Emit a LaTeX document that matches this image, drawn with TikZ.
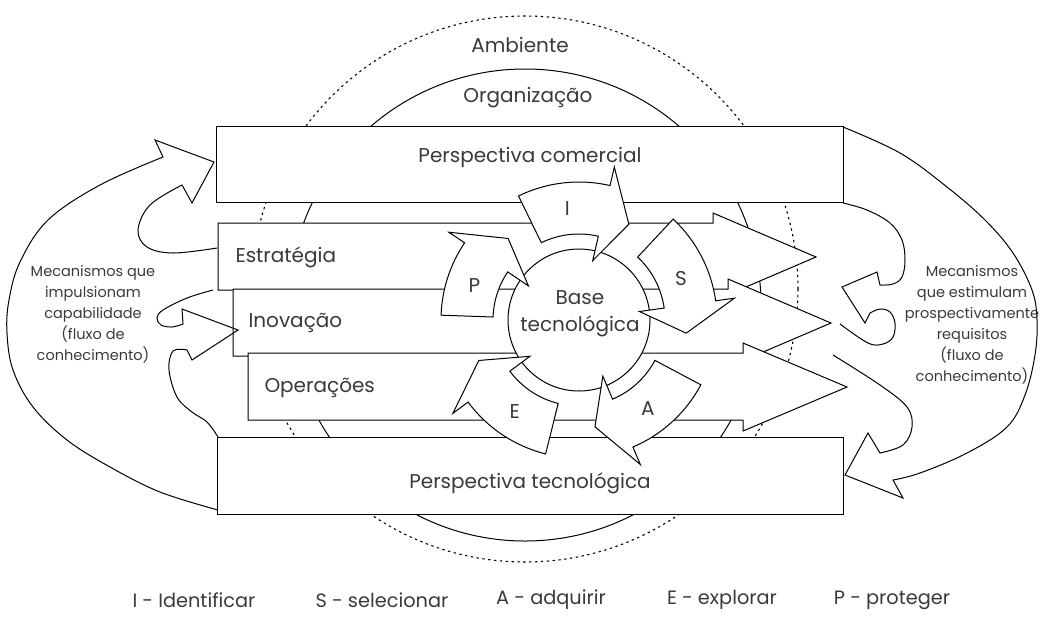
\documentclass[tikz,border=0pt]{standalone}
\usepackage{fontspec}
\setmainfont{Poppins}
\usetikzlibrary{calc}
\definecolor{inkgray}{HTML}{3A3A3A}
% one curved block arrow of the cycle, clockwise from #1 to its head base #2, tip at #3
\newcommand\cyclearrow[3]{%
  \draw[cyclebody] (#1:138) arc[start angle=#1, end angle=#2, radius=138]
    -- (#2:157) -- (#3:108) -- (#2:61) -- (#2:86)
    arc[start angle=#2, end angle=#1, radius=86] -- cycle;}
\begin{document}
\begin{tikzpicture}[x=0.75pt, y=-0.75pt, line width=0.75pt, line join=miter,
  outline/.style={draw=black, fill=white},
  cyclebody/.style={draw=black, fill=white},
  flow/.style={draw=black},
  boxlabel/.style={font=\fontsize{15}{17}\selectfont, text=inkgray, inner sep=0pt},
  cyclelabel/.style={font=\fontsize{15}{17}\selectfont, text=inkgray, inner sep=0pt},
  sidetext/.style={font=\fontsize{10.9}{15.75}\selectfont, text=inkgray, align=center, inner sep=0pt},
  legend/.style={font=\fontsize{14.5}{17}\selectfont, text=inkgray, inner sep=0pt},
  dotline/.style={draw=black, line width=0.8pt, dash pattern=on 1.8pt off 2.6pt},
]
\useasboundingbox (0,0) rectangle (1042,619);

% environment (dotted) and organisation (solid) rings
\draw[dotline] (525,289) circle[radius=273];
\draw (525,305) circle[radius=236];

% strategy, innovation and operations block arrows
\draw[outline] (218,223) -- (713,223) -- (713,213) -- (816,257) -- (713,301) -- (713,290) -- (218,290) -- cycle;
\draw[outline] (233,289) -- (728,289) -- (728,279) -- (831,323) -- (728,367) -- (728,356) -- (233,356) -- cycle;
\draw[outline] (248,353) -- (743,353) -- (743,343) -- (847,387) -- (743,431) -- (743,420) -- (248,420) -- cycle;

% commercial and technological perspectives
\draw[outline] (216,126) rectangle (843,202);
\draw[outline] (217,437) rectangle (843,514);

% technology base
\draw[outline] (579,320) circle[radius=71];

% identify / select / acquire / exploit / protect cycle
\begin{scope}[shift={(579,320)}, yscale=-1]
  \cyclearrow{116}{77}{62.5}
  \cyclearrow{47}{8}{-7}
  \cyclearrow{-28}{-67}{-81.5}
  \cyclearrow{-104}{-143.5}{-158}
  \cyclearrow{178}{146}{131}
  \node[cyclelabel] (lI) at (96:112) {I};
  \node[cyclelabel] (lS) at (22:110) {S};
  \node[cyclelabel] (lA) at (-52:112) {A};
  \node[cyclelabel] (lE) at (-125:112) {E};
  \node[cyclelabel] (lP) at (162:110) {P};
\end{scope}

% knowledge flows on the left
\draw[flow] plot[smooth, tension=0.6] coordinates {(218,510) (160,492) (110,467) (67,440) (33,407) (13,370) (7,333) (9,300) (20,262) (48,220) (100,185) (163,157)}
  -- (155,140) -- (214,162) -- (192,203) -- (182,185)
  -- plot[smooth, tension=0.6] coordinates {(182,185) (150,205) (138,230) (147,247) (173,253) (217,248)};
\draw[flow] plot[smooth, tension=0.6] coordinates {(213,290) (187,298) (163,310) (157,318) (161,325) (172,327) (183,324)}
  -- (182,309) -- (238,330) -- (192,360) -- (187,350)
  -- plot[smooth, tension=0.6] coordinates {(187,350) (173,351) (169,370) (177,397) (192,412) (207,422) (218,437)};

% knowledge flows on the right
\draw[flow] plot[smooth, tension=0.6] coordinates {(843,127) (900,153) (947,187) (985,220) (1013,253) (1032,290) (1037,320) (1035,355) (1025,395) (1007,427) (967,453) (920,473) (893,480)}
  -- (903,498) -- (845,475) -- (868,433) -- (880,453)
  -- plot[smooth, tension=0.6] coordinates {(880,453) (903,445) (912,427) (907,407) (880,385) (833,355)};
\draw[flow] plot[smooth, tension=0.6] coordinates {(843,203) (867,210) (890,223) (902,240) (905,260) (902,277) (893,284) (880,285)}
  -- (877,272) -- (842,287) -- (865,323) -- (870,313)
  -- plot[smooth, tension=0.6] coordinates {(870,313) (880,309) (890,312) (895,323) (893,337) (883,344) (868,343) (840,324)};

% texts
\node[boxlabel] (amb) at (520,45) {Ambiente};
\node[boxlabel] (org) at (528,98) {Organização};
\node[boxlabel] (com) at (530,157) {Perspectiva comercial};
\node[boxlabel] (tec) at (530,483) {Perspectiva tecnológica};
\node[boxlabel, anchor=west] (est) at (235,257) {Estratégia};
\node[boxlabel, anchor=west] (ino) at (248,323) {Inovação};
\node[boxlabel, anchor=west] (ope) at (264,388) {Operações};
\node[boxlabel, align=center, font=\fontsize{15}{20}\selectfont] (base) at (580,314) {Base\\tecnológica};
\node[sidetext] (mleft) at (93,314) {Mecanismos que\\impulsionam\\capabilidade\\(fluxo de\\conhecimento)};
\node[sidetext] (mright) at (972,325) {Mecanismos\\que estimulam\\prospectivamente\\requisitos\\(fluxo de\\conhecimento)};

\node[legend] (kI) at (194,600) {I - Identificar};
\node[legend] (kS) at (382,600) {S - selecionar};
\node[legend] (kA) at (551,600) {A - adquirir};
\node[legend] (kE) at (722,600) {E - explorar};
\node[legend] (kP) at (892,600) {P - proteger};
\end{tikzpicture}
\end{document}
